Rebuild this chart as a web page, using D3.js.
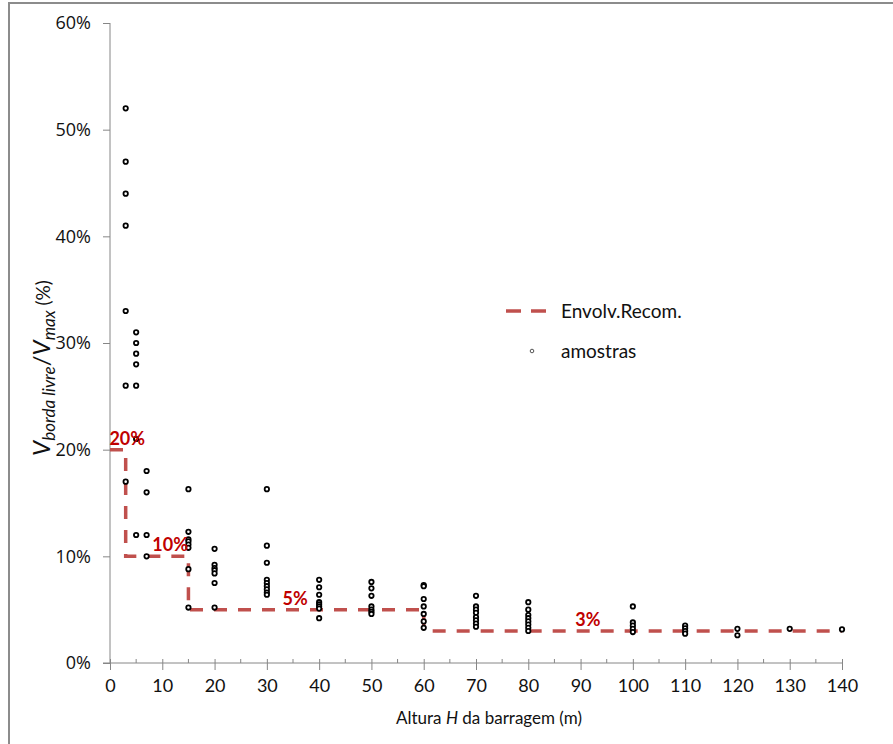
<!DOCTYPE html>
<html>
<head>
<meta charset="utf-8">
<script src="https://cdn.jsdelivr.net/npm/d3@7/dist/d3.min.js"></script>
<style>
  html, body { margin: 0; padding: 0; background: #fff; }
  svg { display: block; }
</style>
</head>
<body>
<svg id="chart" width="893" height="744"></svg>
<script>
// Dam height H (m) and freeboard volume ratio (%) of each sampled reservoir
const sampleH = [
  3, 3, 3, 3, 3, 3, 3,
  5, 5, 5, 5, 5, 5, 5,
  7, 7, 7, 7,
  15, 15, 15, 15, 15, 15, 15, 15,
  20, 20, 20, 20, 20, 20, 20,
  30, 30, 30, 30, 30, 30, 30, 30, 30,
  40, 40, 40, 40, 40, 40, 40, 40,
  50, 50, 50, 50, 50, 50, 50,
  60, 60, 60, 60, 60, 60, 60,
  70, 70, 70, 70, 70, 70, 70, 70,
  80, 80, 80, 80, 80, 80, 80, 80,
  100, 100, 100, 100, 100,
  110, 110, 110, 110,
  120, 120,
  130,
  140
];
const sampleV = [
  52.0, 47.0, 44.0, 41.0, 33.0, 26.0, 17.0,
  31.0, 30.0, 29.0, 28.0, 26.0, 21.0, 12.0,
  18.0, 16.0, 12.0, 10.0,
  16.3, 12.3, 11.6, 11.4, 11.1, 10.8, 8.8, 5.2,
  10.7, 9.2, 8.9, 8.7, 8.4, 7.5, 5.2,
  16.3, 11.0, 9.4, 7.8, 7.5, 7.2, 6.9, 6.6, 6.4,
  7.8, 7.1, 6.4, 5.7, 5.5, 5.3, 5.1, 4.2,
  7.6, 7.0, 6.3, 5.3, 5.0, 4.8, 4.6,
  7.3, 7.2, 6.0, 5.3, 4.6, 3.9, 3.3,
  6.3, 5.3, 5.0, 4.7, 4.3, 4.0, 3.7, 3.4,
  5.7, 5.0, 4.5, 4.2, 3.9, 3.6, 3.3, 3.0,
  5.3, 3.8, 3.5, 3.2, 2.9,
  3.5, 3.25, 3.0, 2.75,
  3.2, 2.6,
  3.2,
  3.15
];

// Recommended envelope (step line)
const envH = [0, 3, 3, 15, 15, 60, 60, 140];
const envV = [20, 20, 10, 10, 5, 5, 3, 3];

// Step labels: value of each step and the height where its label sits
const stepV = [20, 10, 5, 3];
const stepLabelH = [3.3, 11.5, 35.4, 91.4];

const xTicks = d3.range(0, 141, 10);
const xMinorTicks = d3.range(5, 140, 10);
const yTicks = [0, 10, 20, 30, 40, 50, 60];

const legendNames = ["Envolv.Recom.", "amostras"];

const svg = d3.select("#chart");

const plot = { left: 110, right: 842, top: 23, bottom: 663 };
const x = d3.scaleLinear().domain([0, 140]).range([plot.left, plot.right]);
const y = d3.scaleLinear().domain([0, 60]).range([plot.bottom, plot.top]);

const axisGrey = "#868686";
const red = "#C0504D";
const labelRed = "#C00000";
const font = "Lato, 'Open Sans', sans-serif";
const ink = "#111";

// outer frame
svg.append("rect")
  .attr("x", 9).attr("y", 3)
  .attr("width", 1000).attr("height", 1000)
  .attr("fill", "none")
  .attr("stroke", "#8c8c8c")
  .attr("stroke-width", 2);

// y axis
const yAxis = d3.axisLeft(y)
  .tickValues(yTicks)
  .tickSize(7)
  .tickPadding(12)
  .tickFormat(d => d + "%");
const gy = svg.append("g")
  .attr("transform", `translate(${plot.left},0)`)
  .call(yAxis);
gy.select(".domain").attr("stroke", axisGrey).attr("d", `M0,${plot.bottom}V${plot.top}`);
gy.selectAll(".tick line").attr("stroke", axisGrey);
gy.selectAll(".tick text")
  .attr("fill", ink)
  .style("font-family", "'Open Sans', sans-serif")
  .style("font-size", "18px");

// x axis: major ticks cross the line, minor ticks sit above it
const xAxis = d3.axisBottom(x)
  .tickValues(xTicks)
  .tickSize(7)
  .tickPadding(9)
  .tickFormat(d3.format("d"));
const gx = svg.append("g")
  .attr("transform", `translate(0,${plot.bottom})`)
  .call(xAxis);
gx.select(".domain").attr("stroke", axisGrey).attr("d", `M${plot.left - 7},0H${plot.right}`);
gx.selectAll(".tick line").attr("stroke", axisGrey).attr("y1", -4);
gx.selectAll(".tick text")
  .attr("fill", ink)
  .style("font-family", font)
  .style("font-size", "18px");
gx.selectAll(".minor")
  .data(xMinorTicks)
  .enter().append("line")
  .attr("class", "minor")
  .attr("x1", d => x(d)).attr("x2", d => x(d))
  .attr("y1", -4).attr("y2", 0)
  .attr("stroke", axisGrey);

// envelope
const envData = envH.map((h, i) => [h, envV[i]]);
svg.append("path")
  .datum(envData)
  .attr("d", d3.line().x(d => x(d[0])).y(d => y(d[1])))
  .attr("fill", "none")
  .attr("stroke", red)
  .attr("stroke-width", 3.5)
  .attr("stroke-dasharray", "13,11");

// samples
const samples = sampleH.map((h, i) => [h, sampleV[i]]);
svg.append("g")
  .selectAll("circle")
  .data(samples)
  .enter().append("circle")
  .attr("cx", d => x(d[0]))
  .attr("cy", d => y(d[1]))
  .attr("r", 2.2)
  .attr("fill", "#fff")
  .attr("stroke", "#000")
  .attr("stroke-width", 1.8);

// step labels
svg.append("g")
  .selectAll("text")
  .data(stepV)
  .enter().append("text")
  .attr("x", (d, i) => x(stepLabelH[i]))
  .attr("y", d => y(d) - 5)
  .attr("text-anchor", "middle")
  .attr("fill", labelRed)
  .style("font-family", font)
  .style("font-weight", "bold")
  .style("font-size", "18px")
  .text(d => d + "%");

// legend
const lg = svg.append("g");
lg.append("line")
  .attr("x1", 506).attr("x2", 546)
  .attr("y1", 311).attr("y2", 311)
  .attr("stroke", red).attr("stroke-width", 3.5)
  .attr("stroke-dasharray", "15,10");
lg.append("circle")
  .attr("cx", 532).attr("cy", 351).attr("r", 1.8)
  .attr("fill", "#fff").attr("stroke", "#555").attr("stroke-width", 1);
lg.selectAll("text.leg")
  .data(legendNames)
  .enter().append("text")
  .attr("class", "leg")
  .attr("x", 561)
  .attr("y", (d, i) => 311 + i * 40)
  .attr("dy", "0.35em")
  .attr("fill", ink)
  .style("font-family", font)
  .style("font-size", "19px")
  .text(d => d);

// x axis title
const xt = svg.append("text")
  .attr("x", 489).attr("y", 718)
  .attr("dy", "0.35em")
  .attr("text-anchor", "middle")
  .attr("fill", ink)
  .style("font-family", font)
  .style("font-size", "17px");
xt.append("tspan").text("Altura ");
xt.append("tspan").style("font-style", "italic").text("H");
xt.append("tspan").text(" da barragem (m)");

// y axis title
const yt = svg.append("text")
  .attr("transform", "translate(50,368) rotate(-90)")
  .attr("text-anchor", "middle")
  .attr("fill", ink)
  .style("font-family", font)
  .style("font-size", "24px");
yt.append("tspan").style("font-style", "italic").text("V");
yt.append("tspan").attr("dy", 5).style("font-style", "italic").style("font-size", "17px").text("borda livre");
yt.append("tspan").attr("dy", -5).style("font-size", "24px").text("/");
yt.append("tspan").style("font-style", "italic").text("V");
yt.append("tspan").attr("dy", 5).style("font-style", "italic").style("font-size", "17px").text("max");
yt.append("tspan").attr("dy", -5).style("font-size", "19px").text(" (%)");
</script>
</body>
</html>
